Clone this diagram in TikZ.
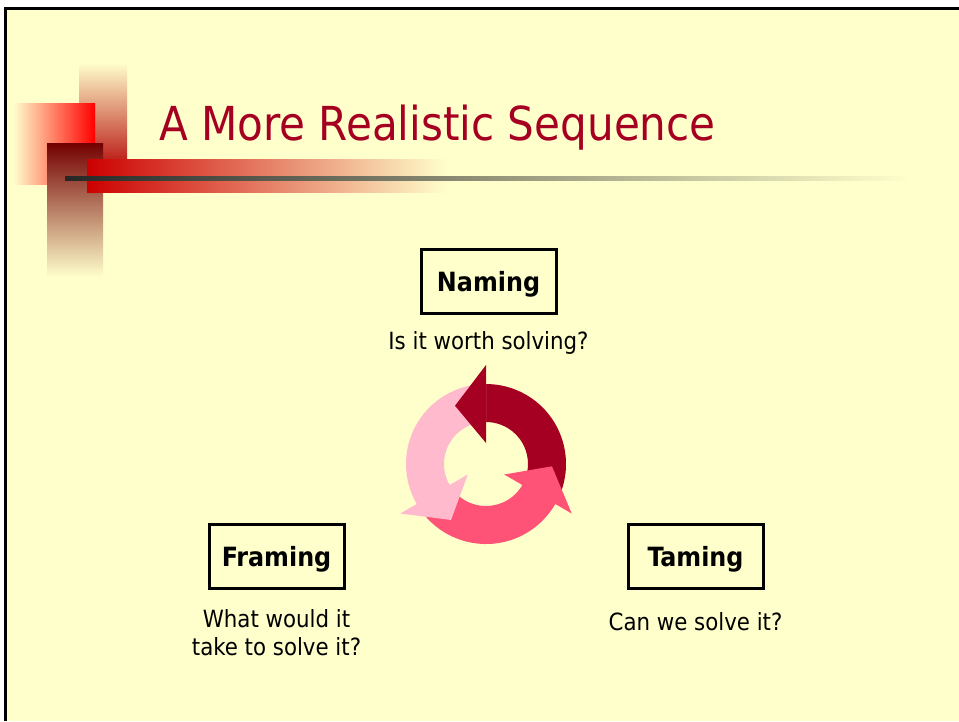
\documentclass[tikz,border=0pt]{standalone}
\usepackage{fontspec}
\IfFontExistsTF{DejaVu Sans Condensed}
  {\setmainfont{DejaVu Sans Condensed}}
  {\setmainfont{DejaVu Sans}}
\usepackage{tikz}
\usetikzlibrary{positioning}

\definecolor{slidebg}{HTML}{FFFFCC}
\definecolor{titlered}{HTML}{A50021}
\definecolor{cycdark}{HTML}{A50021}
\definecolor{cycred}{HTML}{FF5276}
\definecolor{cycpale}{HTML}{FFBACD}

\begin{document}
\begin{tikzpicture}[x=1pt,y=-1pt,
    stagebox/.style={draw=black,line width=3pt,minimum width=135pt,minimum height=64pt,
      text depth=0pt,font=\fontsize{26.5}{30}\selectfont\bfseries},
    caption/.style={inner sep=0pt,align=center,font=\fontsize{23.7}{28}\selectfont}]
  \useasboundingbox (0,0) rectangle (959,721);
  \fill[white] (0,0) rectangle (959,721);
  \fill[slidebg] (5,8) rectangle (959,721);
  \draw[line width=3pt] (5,721) -- (5,8) -- (959,8);

  % title decoration
  \shade[top color=slidebg,bottom color=red!70!black] (79,63) rectangle (127,175);
  \shade[left color=slidebg,right color=red] (13,103) rectangle (95,184);
  \shade[top color=red!45!black,bottom color=slidebg] (47,143) rectangle (103,277);
  \shade[left color=red!80!black,right color=slidebg] (87,159) rectangle (447,192);
  \shade[left color=black!85,right color=slidebg] (65,176) rectangle (910,180);
  \node[anchor=base west,inner sep=0pt,text=titlered,font=\fontsize{46.8}{50}\selectfont]
    (title) at (159,140) {A More Realistic Sequence};

  % cycle
  \begin{scope}[shift={(486,464)},yscale=-1]
    \foreach \ang/\col in {90/cycdark,330/cycred,210/cycpale}
      \fill[\col] (\ang-120:80) arc[start angle=\ang-120,end angle=\ang+1,radius=80]
        -- (\ang+1:42) arc[start angle=\ang+1,end angle=\ang-120,radius=42] -- cycle;
    \foreach \ang/\col in {90/cycdark,330/cycred,210/cycpale}
      \fill[\col] (\ang:21) -- (\ang:99) -- (\ang+28:66) -- cycle;
  \end{scope}

  % stages
  \node[stagebox] (naming) at (488.5,281) {Naming};
  \node[caption,below=17pt of naming] (namingq) {Is it worth solving?};

  \node[stagebox] (framing) at (276.5,556) {Framing};
  \node[caption,below=20pt of framing] (framingq) {What would it\\take to solve it?};

  \node[stagebox] (taming) at (695.5,556) {Taming};
  \node[caption,below=23pt of taming] (tamingq) {Can we solve it?};
\end{tikzpicture}
\end{document}
